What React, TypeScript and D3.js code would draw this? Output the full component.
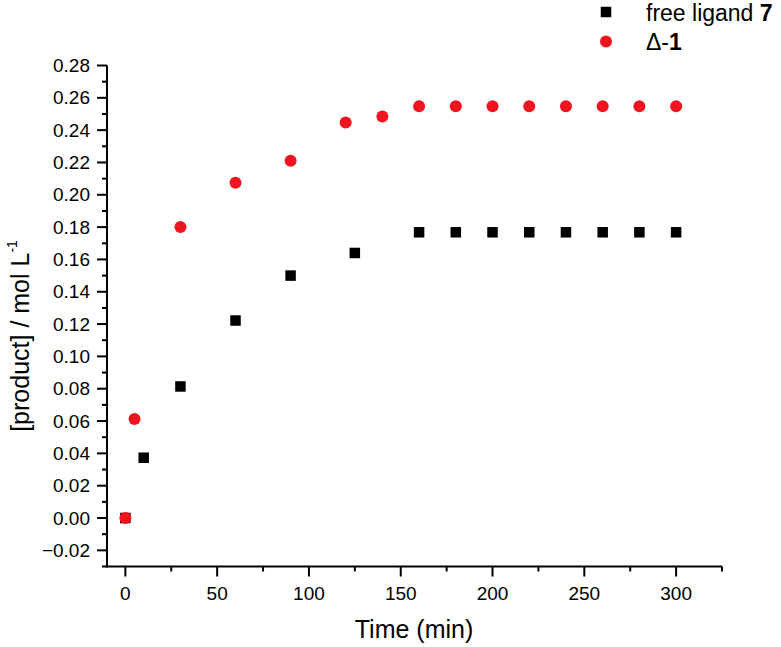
import React from "react";
import * as d3 from "d3";

const ligandTimes = [0, 10, 30, 60, 90, 125, 160, 180, 200, 220, 240, 260, 280, 300];
const ligandValues = [0.0, 0.0373, 0.0814, 0.1222, 0.150, 0.164, 0.1768, 0.1768, 0.1768, 0.1768, 0.1768, 0.1768, 0.1768, 0.1768];
const deltaTimes = [0, 5, 30, 60, 90, 120, 140, 160, 180, 200, 220, 240, 260, 280, 300];
const deltaValues = [0.0, 0.0613, 0.180, 0.2075, 0.2210, 0.2448, 0.2485, 0.2548, 0.2548, 0.2548, 0.2548, 0.2548, 0.2548, 0.2548, 0.2548];
const xMajorTicks = [0, 50, 100, 150, 200, 250, 300];
const xMinorTicks = [25, 75, 125, 175, 225, 275, 325];
const yMajorTicks = [-0.02, 0.0, 0.02, 0.04, 0.06, 0.08, 0.1, 0.12, 0.14, 0.16, 0.18, 0.2, 0.22, 0.24, 0.26, 0.28];
const yMinorTicks = [-0.03, -0.01, 0.01, 0.03, 0.05, 0.07, 0.09, 0.11, 0.13, 0.15, 0.17, 0.19, 0.21, 0.23, 0.25, 0.27];

const W = 781;
const H = 647;
const RED = "#f0141e";
const FONT = "Liberation Sans, Arial, sans-serif";

export default function App() {
  const x = d3.scaleLinear().domain([-10, 325]).range([107, 722]);
  const y = d3.scaleLinear().domain([-0.03, 0.28]).range([566.5, 65.5]);
  const fmtY = d3.format(".2f");
  const sq = 10.5;

  return (
    <svg
      width={W}
      height={H}
      style={{ position: "absolute", left: 0, top: 0, background: "#fff" }}
      fontFamily={FONT}
    >
      <rect x={0} y={0} width={W} height={H} fill="#fff" />
      {/* axes */}
      <line x1={x(-10)} x2={x(325)} y1={y(-0.03)} y2={y(-0.03)} stroke="#000" strokeWidth={2} />
      <line x1={x(-10)} x2={x(-10)} y1={y(-0.03) + 1} y2={y(0.28)} stroke="#000" strokeWidth={2} />
      {/* x ticks */}
      {xMajorTicks.map((t) => (
        <g key={"xm" + t}>
          <line x1={x(t)} x2={x(t)} y1={y(-0.03)} y2={y(-0.03) + 10} stroke="#000" strokeWidth={2} />
          <text x={x(t)} y={600} fontSize={19} textAnchor="middle" fill="#000">
            {t}
          </text>
        </g>
      ))}
      {xMinorTicks.map((t) => (
        <line key={"xn" + t} x1={x(t)} x2={x(t)} y1={y(-0.03)} y2={y(-0.03) + 5} stroke="#000" strokeWidth={2} />
      ))}
      {/* y ticks */}
      {yMajorTicks.map((t) => (
        <g key={"ym" + t}>
          <line x1={x(-10) - 10} x2={x(-10)} y1={y(t)} y2={y(t)} stroke="#000" strokeWidth={2} />
          <text x={90} y={y(t)} dy="0.35em" fontSize={19} textAnchor="end" fill="#000">
            {fmtY(t)}
          </text>
        </g>
      ))}
      {yMinorTicks.map((t) => (
        <line key={"yn" + t} x1={x(-10) - 5} x2={x(-10)} y1={y(t)} y2={y(t)} stroke="#000" strokeWidth={2} />
      ))}
      {/* axis titles */}
      <text x={414} y={638} fontSize={25} textAnchor="middle" fill="#000">
        Time (min)
      </text>
      <text
        transform={`translate(29, ${336}) rotate(-90)`}
        fontSize={25}
        textAnchor="middle"
        fill="#000"
      >
        [product] / mol L
        <tspan fontSize={14} dy={-12}>-1</tspan>
      </text>
      {/* data: free ligand */}
      {ligandTimes.map((t, i) => (
        <rect
          key={"l" + i}
          x={x(t) - sq / 2}
          y={y(ligandValues[i]) - sq / 2}
          width={sq}
          height={sq}
          fill="#000"
        />
      ))}
      {/* data: delta-1 */}
      {deltaTimes.map((t, i) => (
        <circle key={"d" + i} cx={x(t)} cy={y(deltaValues[i])} r={6} fill={RED} />
      ))}
      {/* legend */}
      <rect x={606 - sq / 2} y={12 - sq / 2} width={sq} height={sq} fill="#000" />
      <text x={646} y={21} fontSize={23} fill="#000">
        free ligand <tspan fontWeight="bold">7</tspan>
      </text>
      <circle cx={606} cy={41.5} r={6} fill={RED} />
      <text x={646} y={50} fontSize={23} fill="#000">
        Δ-<tspan fontWeight="bold">1</tspan>
      </text>
    </svg>
  );
}
